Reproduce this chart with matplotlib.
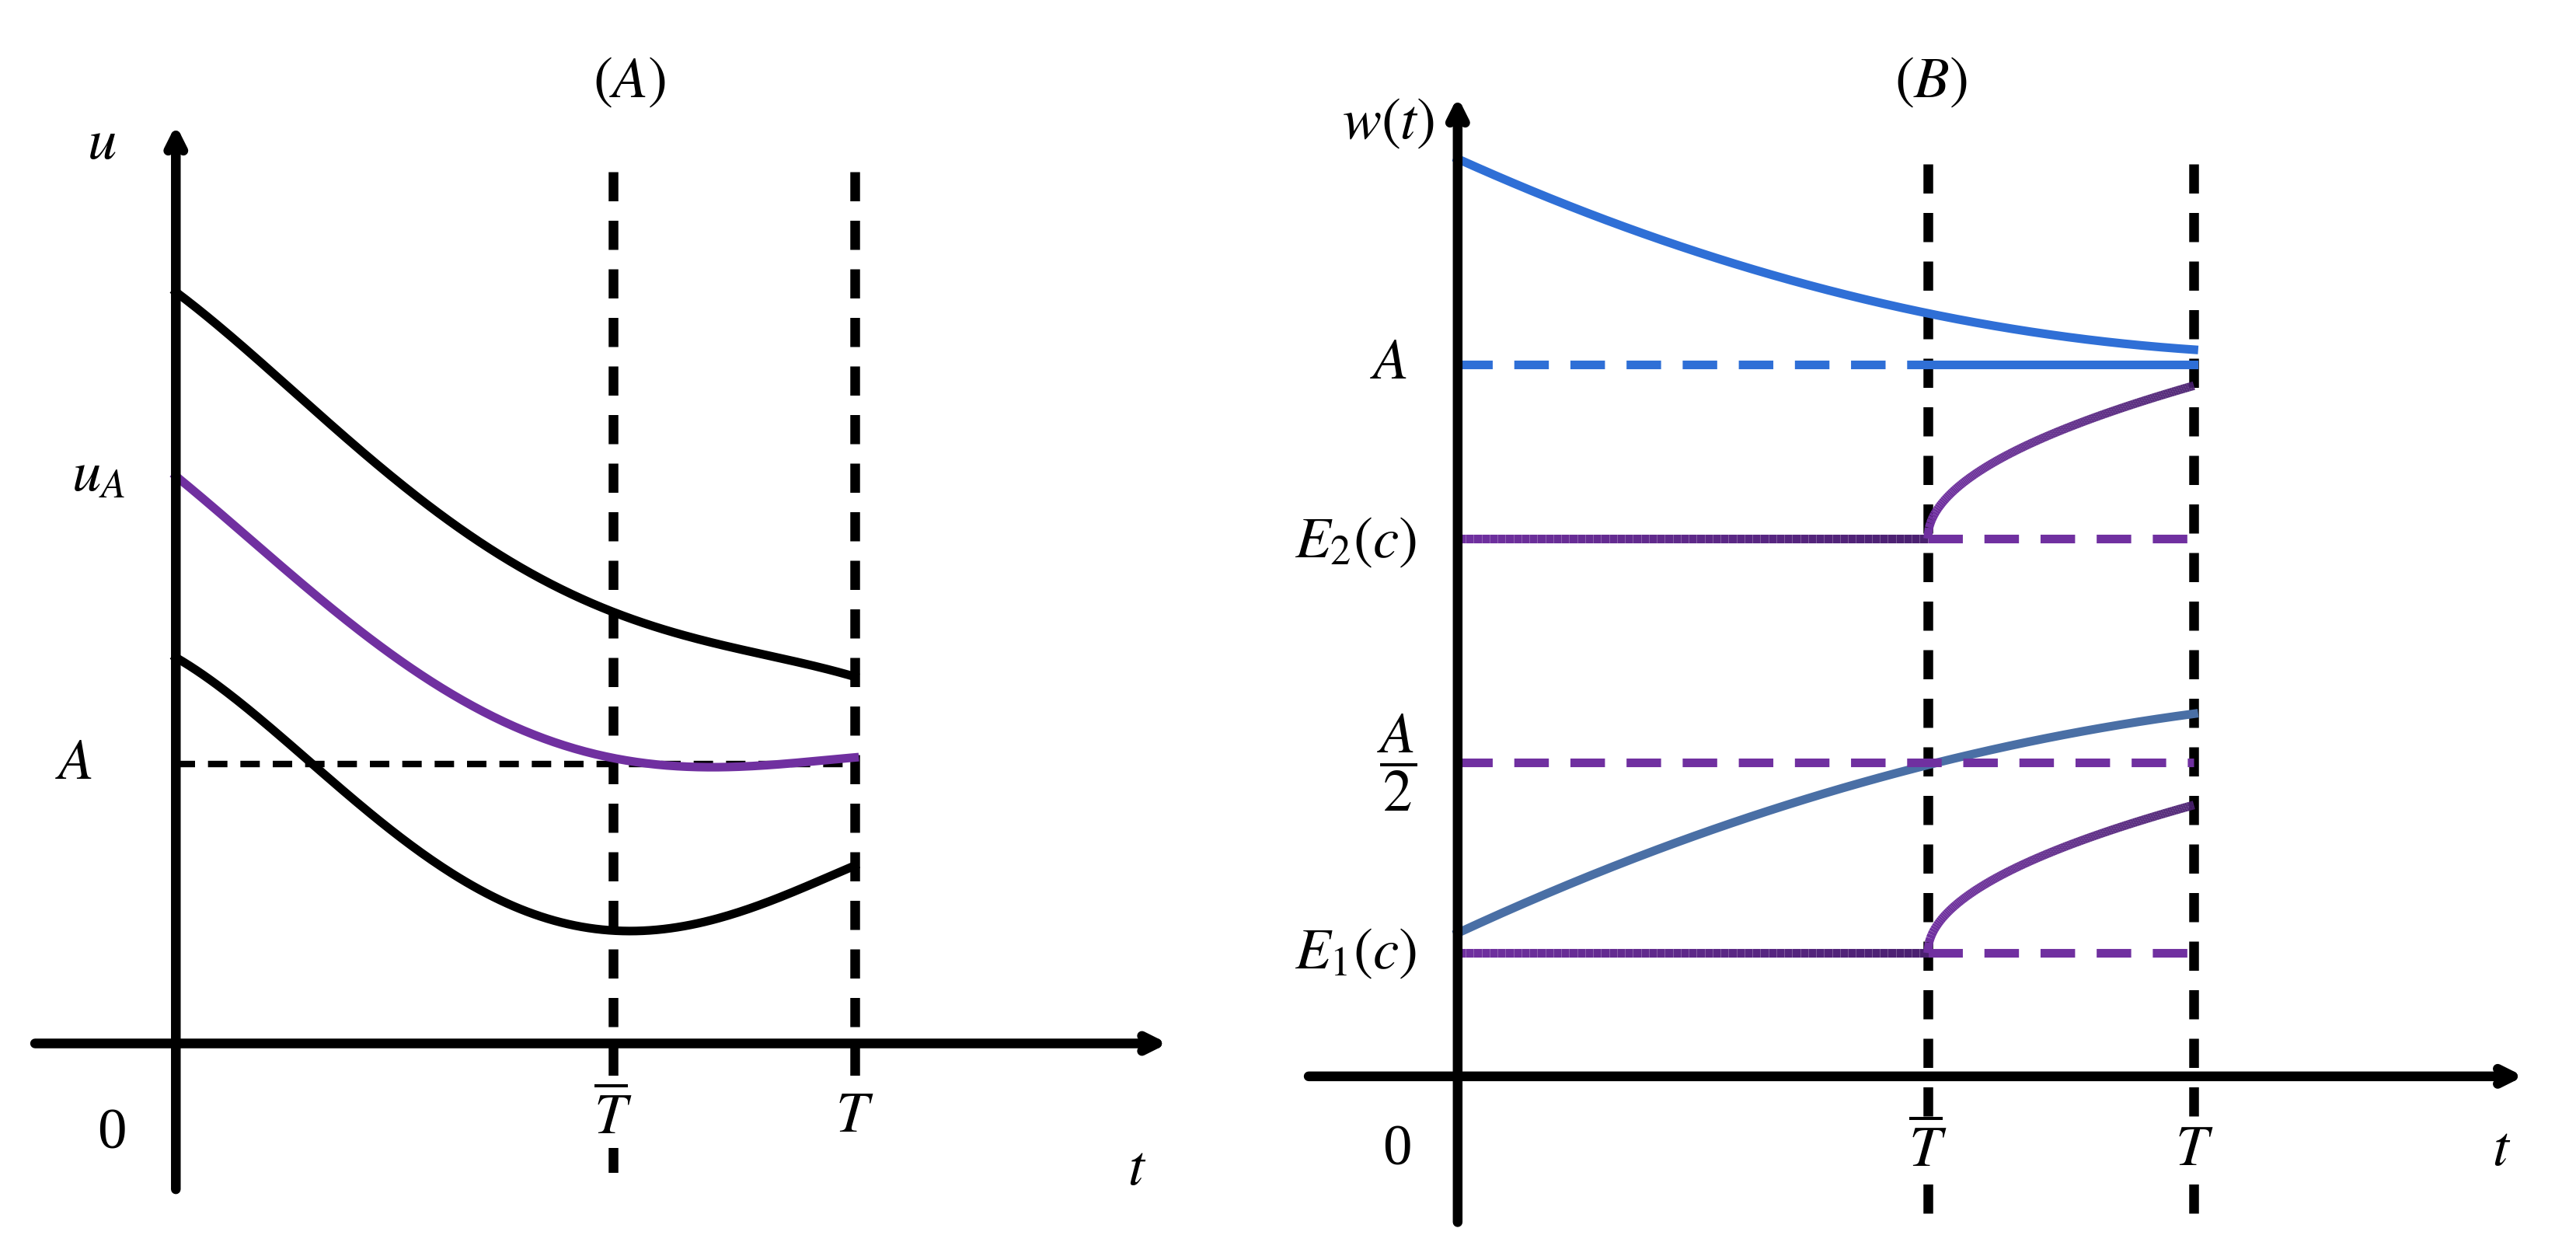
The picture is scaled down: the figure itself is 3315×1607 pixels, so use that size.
import numpy as np
import matplotlib
matplotlib.use("Agg")
import matplotlib.pyplot as plt
from matplotlib.collections import LineCollection

plt.rcParams['mathtext.fontset'] = 'stix'
plt.rcParams['font.family'] = ['Liberation Serif', 'DejaVu Serif']

# Panel A curves (x, y) in picture units (y downward)
a_top_x = [107, 160, 220, 300, 373, 450, 520]; a_top_y = [178, 222, 275, 335, 373, 395, 412]
a_mid_x = [107, 160, 220, 300, 373, 420, 470, 520]; a_mid_y = [290, 335, 385, 436, 462, 466, 466, 461]
a_bot_x = [107, 160, 220, 300, 340, 373, 420, 470, 520]; a_bot_y = [400, 440, 490, 545, 562, 567, 562, 548, 527]
# Panel B curves
b_top_x = [887, 1000, 1100, 1173, 1260, 1335]; b_top_y = [98, 140, 175, 192, 205, 213]
b_low_x = [887, 1000, 1100, 1173, 1260, 1335]; b_low_y = [568, 520, 487, 464, 448, 434]
levels_B = {'A': 222, 'E2': 328, 'A2': 464, 'E1': 580}
level_A_A = 465

fig = plt.figure(figsize=(33.16, 16.08), dpi=100)
ax = fig.add_axes([0, 0, 1, 1])
ax.set_xlim(0, 1568); ax.set_ylim(760, 0); ax.axis('off')

K = 'black'; P = '#7030a0'; PD = '#4a2070'; BL = '#2f6fd6'; SB = '#4a6fa5'
lw_ax = 9; lw_c = 8; fs = 54
bb = dict(facecolor='white', edgecolor='none', pad=2)

def smooth(xs, ys, deg=4):
    c = np.polyfit(xs, ys, deg)
    x = np.linspace(xs[0], xs[-1], 200)
    return x, np.polyval(c, x)

def arrow(x0, y0, x1, y1):
    ax.annotate('', xy=(x1, y1), xytext=(x0, y0),
                arrowprops=dict(arrowstyle='->,head_length=1.4,head_width=0.7', lw=lw_ax, color=K))

def gradline(x, y, c0, c1):
    pts = np.array([x, y]).T.reshape(-1, 1, 2)
    segs = np.concatenate([pts[:-1], pts[1:]], axis=1)
    cm = matplotlib.colors.LinearSegmentedColormap.from_list('g', [c0, c1])
    ax.add_collection(LineCollection(segs, colors=cm(np.linspace(0, 1, len(segs))),
                                     linewidths=lw_c, capstyle='butt'))

# ---------- Panel A ----------
arrow(107, 725, 107, 75)
arrow(20, 635, 712, 635)
ax.plot([373, 373], [105, 720], ls=(0, (3, 2)), color=K, lw=lw_ax)
ax.plot([520, 520], [105, 690], ls=(0, (3, 2)), color=K, lw=lw_ax)
ax.plot([107, 520], [level_A_A]*2, ls=(0, (3, 2)), color=K, lw=6)
for xs, ys, col in [(a_top_x, a_top_y, K), (a_mid_x, a_mid_y, P), (a_bot_x, a_bot_y, K)]:
    x, y = smooth(xs, ys)
    ax.plot(x, y, color=col, lw=lw_c)
ax.text(383, 50, r'$(A)$', fontsize=fs, ha='center', va='center')
ax.text(62, 88, r'$u$', fontsize=fs, ha='center', va='center')
ax.text(60, 290, r'$u_A$', fontsize=fs, ha='center', va='center')
ax.text(45, 465, r'$A$', fontsize=fs, ha='center', va='center')
ax.text(68, 690, '0', fontsize=fs, ha='center', va='center')
ax.text(373, 680, r'$\overline{T}$', fontsize=fs, ha='center', va='center', bbox=bb)
ax.text(520, 680, r'$T$', fontsize=fs, ha='center', va='center', bbox=bb)
ax.text(692, 712, r'$t$', fontsize=fs, ha='center', va='center')

# ---------- Panel B ----------
arrow(887, 745, 887, 58)
arrow(795, 655, 1537, 655)
for xv in (1173, 1335):
    ax.plot([xv, xv], [100, 740], ls=(0, (3, 2)), color=K, lw=lw_ax)
x, y = smooth(b_top_x, b_top_y, 2); ax.plot(x, y, color=BL, lw=lw_c)
x, y = smooth(b_low_x, b_low_y, 2); ax.plot(x, y, color=SB, lw=lw_c)
ax.plot([887, 1173], [levels_B['A']]*2, ls=(0, (4, 2.5)), color=BL, lw=lw_c)
ax.plot([1173, 1335], [levels_B['A']]*2, color=BL, lw=lw_c)
ax.plot([887, 1335], [levels_B['A2']]*2, ls=(0, (4, 2.5)), color=P, lw=lw_c)
for key, top in (('E2', 235), ('E1', 490)):
    yl = levels_B[key]
    xl = np.linspace(887, 1173, 60)
    gradline(xl, np.full_like(xl, yl), P, PD)
    ax.plot([1173, 1335], [yl]*2, ls=(0, (4, 2.5)), color=P, lw=lw_c)
    s = np.linspace(0, 1, 200)
    gradline(1173 + 162*s, yl - (yl - top)*s**0.5, P, PD)
ax.text(1175, 50, r'$(B)$', fontsize=fs, ha='center', va='center')
ax.text(845, 75, r'$w(t)$', fontsize=fs, ha='center', va='center')
ax.text(845, 222, r'$A$', fontsize=fs, ha='center', va='center')
ax.text(825, 330, r'$E_2(c)$', fontsize=fs, ha='center', va='center')
ax.text(850, 464, r'$\dfrac{A}{2}$', fontsize=fs, ha='center', va='center')
ax.text(825, 580, r'$E_1(c)$', fontsize=fs, ha='center', va='center')
ax.text(850, 700, '0', fontsize=fs, ha='center', va='center')
ax.text(1173, 700, r'$\overline{T}$', fontsize=fs, ha='center', va='center', bbox=bb)
ax.text(1335, 700, r'$T$', fontsize=fs, ha='center', va='center', bbox=bb)
ax.text(1522, 700, r'$t$', fontsize=fs, ha='center', va='center')

fig.savefig('out.png', dpi=100, facecolor='white')
